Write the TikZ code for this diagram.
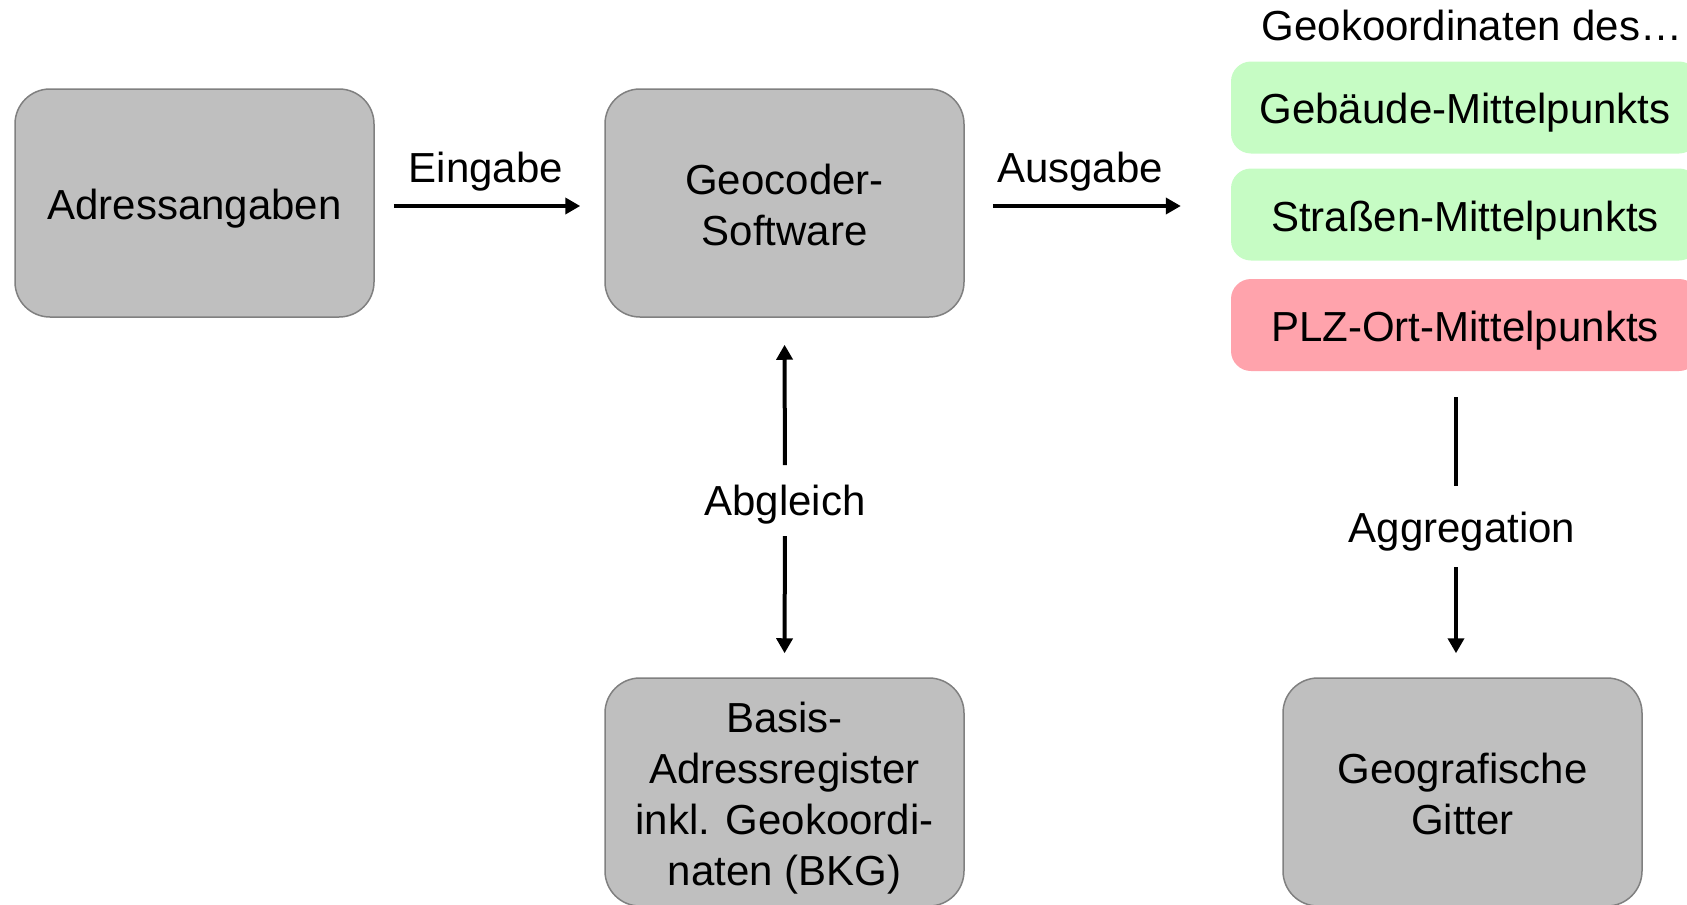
\documentclass[tikz,border=0pt]{standalone}
\usepackage{fontspec}
\setmainfont{Liberation Sans}
\usetikzlibrary{arrows.meta}
\definecolor{boxgray}{HTML}{BFBFBF}
\definecolor{boxedge}{HTML}{808080}
\definecolor{goodgreen}{HTML}{C6FCC4}
\definecolor{badred}{HTML}{FFA3AC}
\tikzset{
  txt/.style={font=\fontsize{42}{51}\selectfont, align=center, inner sep=0pt},
  graybox/.style={draw=boxedge, line width=1.5pt, fill=boxgray,
    rounded corners=35pt, minimum width=359pt, minimum height=228pt, inner sep=0pt},
  resbox/.style={rounded corners=20pt, minimum width=468pt, minimum height=92pt, inner sep=0pt},
  arr/.style={line width=4pt, -{Triangle[length=15pt,width=16pt]}},
  plain/.style={line width=4pt}
}
\begin{document}
\begin{tikzpicture}[x=1pt,y=-1pt]
  \useasboundingbox (0,0) rectangle (1687,905);
  \clip (0,0) rectangle (1687,905);

  % main process boxes
  \node[graybox] (adr) at (194.5,203) {};
  \node[graybox] (geo) at (784.5,203) {};
  \node[graybox] (bas) at (784.5,792) {};
  \node[graybox] (git) at (1462.5,792) {};
  \node[txt] (adrt) at ([yshift=-6pt]adr.center) {Adressangaben};
  \node[txt] (geot) at ([yshift=-2pt]geo.center) {Geocoder-\\Software};
  \node[txt] (bast) at ([yshift=-6pt]bas.center) {Basis-\\Adressregister\\inkl. Geokoordi-\\naten (BKG)};
  \node[txt] (gitt) at ([yshift=-2pt]git.center) {Geografische\\Gitter};

  % result categories
  \node[txt] (head) at (1472,25) {Geokoordinaten des\ldots};
  \node[resbox, fill=goodgreen] (geb) at (1465,107.5) {};
  \node[resbox, fill=goodgreen] (str) at (1465,214.5) {};
  \node[resbox, fill=badred] (plz) at (1465,325) {};
  \node[txt] (gebt) at ([yshift=-5pt]geb.center) {Gebäude-Mittelpunkts};
  \node[txt] (strt) at ([yshift=-6pt]str.center) {Straßen-Mittelpunkts};
  \node[txt] (plzt) at ([yshift=-6pt]plz.center) {PLZ-Ort-Mittelpunkts};

  % connector labels
  \node[txt] (ein) at (486,172) {Eingabe};
  \node[txt] (aus) at (1080,172) {Ausgabe};
  \node[txt] (abg) at (785,505) {Abgleich};
  \node[txt] (agg) at (1462,532) {Aggregation};
  \coordinate (ax) at (1456,0);

  % connectors
  \draw[arr, shorten <=19pt, shorten >=24pt] ([yshift=-3pt]adr.east) -- ([yshift=-3pt]geo.west);
  \draw[arr, shorten <=28pt, shorten >=50pt] ([yshift=-3pt]geo.east) -- ([yshift=-3pt]geo.east -| str.west);
  \draw[arr, shorten <=40pt, shorten >=27pt] (abg.center) -- (geo.south);
  \draw[arr, shorten <=31pt, shorten >=24pt] (abg.center) -- (bas.north);
  \draw[plain, shorten <=26pt, shorten >=46pt] (plz.south -| ax) -- (agg.center -| ax);
  \draw[arr, shorten <=35pt, shorten >=24pt] (agg.center -| ax) -- (git.north -| ax);
\end{tikzpicture}
\end{document}
